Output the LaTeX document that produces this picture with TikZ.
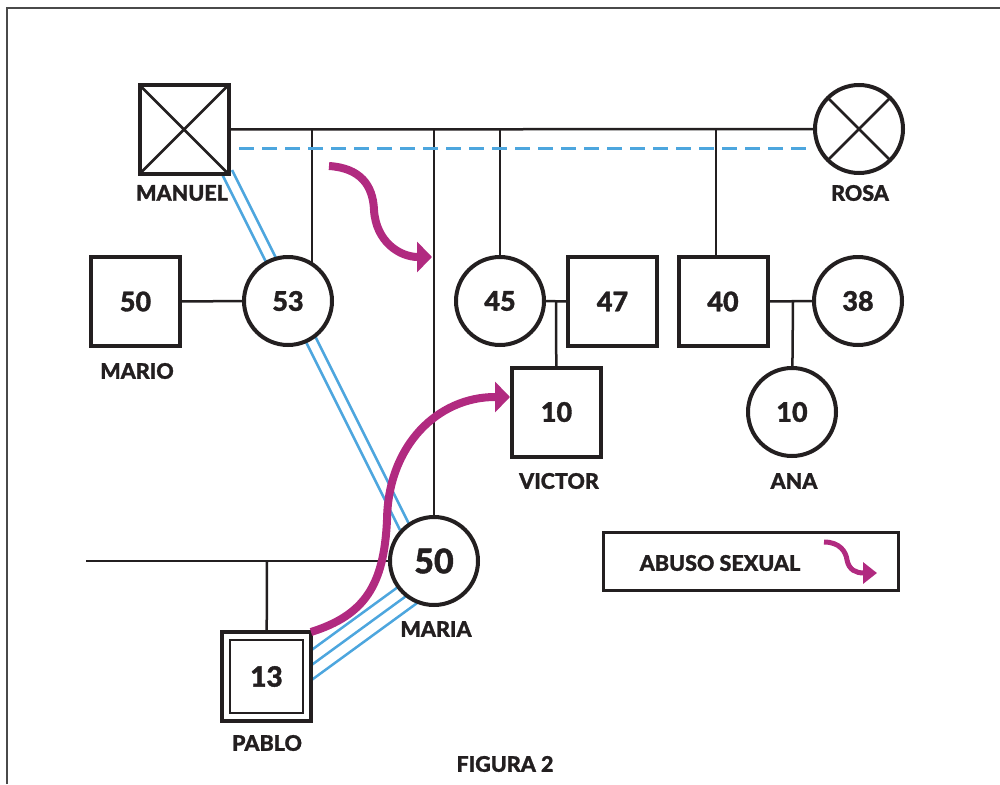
\documentclass[tikz,border=0pt]{standalone}
\usepackage{fontspec}
\setmainfont{Lato}[BoldFont={Lato Heavy}, BoldFeatures={FakeBold=1.2}]
\usetikzlibrary{arrows.meta,calc}
\definecolor{ink}{HTML}{231F20}
\definecolor{abusecol}{HTML}{B12A80}
\definecolor{relcol}{HTML}{4DA6DE}
\definecolor{framecol}{HTML}{4A4A4A}
\pgfdeclarelayer{bg}
\pgfsetlayers{bg,main}
\begin{document}
\begin{tikzpicture}[x=1pt,y=-1pt,
  person/.style={draw=ink, line width=4pt, fill=white, inner sep=0pt, outer sep=0pt, text=ink, font=\fontsize{27}{27}\selectfont\bfseries},
  pmale/.style={person, rectangle, minimum size=89pt},
  pfemale/.style={person, circle, minimum size=88pt},
  lbl/.style={inner sep=0pt, text=ink, font=\fontsize{21.5}{21.5}\selectfont\bfseries},
  conn/.style={draw=ink, line width=2.5pt},
  emoline/.style={draw=relcol, line width=2.5pt},
  abusearrow/.style={draw=abusecol, line width=8pt, -{Triangle[length=15pt,width=30pt]}},
]
\useasboundingbox (0,0) rectangle (1000,784);
% frame
\draw[framecol, line width=1.6pt] (7,784) -- (7,8) -- (1000,8);

% persons
\node[pmale] (manuel) at (184,129.5) {};
\draw[ink, line width=2.5pt] (manuel.north west) -- (manuel.south east) (manuel.north east) -- (manuel.south west);
\node[pfemale] (rosa) at (859,129) {};
\draw[ink, line width=2.5pt] (rosa.45) -- (rosa.225) (rosa.135) -- (rosa.315);
\node[pmale] (mario) at (135.5,301.5) {50};
\node[pfemale] (p53) at (288,301) {53};
\node[pfemale] (p45) at (500,301) {45};
\node[pmale] (p47) at (612.5,301.5) {47};
\node[pmale] (p40) at (723,301.5) {40};
\node[pfemale] (p38) at (858,301) {38};
\node[pmale] (victor) at (556.5,412) {10};
\node[pfemale] (ana) at (792,412) {10};
\node[pfemale, font=\fontsize{34}{34}\selectfont\bfseries] (maria) at (434,561) {50};
\node[pmale, font=\fontsize{28}{28}\selectfont\bfseries] (pablo) at (266.5,676.5) {13};
\draw[ink, line width=2.5pt] ([shift={(8,8)}]pablo.north west) rectangle ([shift={(-8,-8)}]pablo.south east);

% labels
\node[lbl] (lmanuel) at (182,193) {MANUEL};
\node[lbl] (lrosa) at (860,193) {ROSA};
\node[lbl] (lmario) at (137,371) {MARIO};
\node[lbl] (lvictor) at (559,481) {VICTOR};
\node[lbl] (lana) at (794,481) {ANA};
\node[lbl] (lmaria) at (436,629) {MARIA};
\node[lbl] (lpablo) at (267,743) {PABLO};
\node[lbl] (fig) at (505,764) {FIGURA 2};

% junction coordinates
\coordinate (j53) at (312,129);
\coordinate (jm) at (434,129);
\coordinate (j45) at (500,129);
\coordinate (j40) at (716,129);
\coordinate (c1) at (556,301);
\coordinate (c2) at (793,301);
\coordinate (lft) at (86,561);
\coordinate (c3) at (267,561);
\coordinate (dl) at (239,148);
\coordinate (dr) at (806,148);
\coordinate (ea1) at (220,170);
\coordinate (ea2) at (400,530);
\coordinate (eb1) at (232,170);
\coordinate (eb2) at (412,530);
\coordinate (f1a) at (308,652.6);
\coordinate (f1b) at (400,585.5);
\coordinate (f2a) at (308,667.6);
\coordinate (f2b) at (410,593.2);
\coordinate (f3a) at (308,682.6);
\coordinate (f3b) at (420,600.9);

\begin{pgfonlayer}{bg}
\draw[conn] (manuel.east) -- (rosa.west);
\draw[conn] (j53) -- (j53 |- p53.center);
\draw[conn] (jm) -- (maria.center);
\draw[conn] (j45) -- (p45.center);
\draw[conn] (j40) -- (j40 |- p40.center);
\draw[conn] (mario.center) -- (p53.center);
\draw[conn] (p45.center) -- (p47.center);
\draw[conn] (c1) -- (victor.center);
\draw[conn] (p40.center) -- (p38.center);
\draw[conn] (c2) -- (ana.center);
\draw[conn] (lft) -- (maria.center);
\draw[conn] (c3) -- (pablo.center);
\draw[emoline, line width=3pt, dash pattern=on 15pt off 8pt] (dl) -- (dr);
\draw[emoline] (ea1) -- (ea2);
\draw[emoline] (eb1) -- (eb2);
\draw[emoline] (f1a) -- (f1b);
\draw[emoline] (f2a) -- (f2b);
\draw[emoline] (f3a) -- (f3b);
\end{pgfonlayer}

% abuse arrows
\coordinate (a1s) at (329,166);
\coordinate (a1e) at (432,257);
\draw[abusearrow] (a1s) .. controls (360,168) and (373,185) .. (374,210) .. controls (376,242) and (400,257) .. (a1e);
\coordinate (a2e) at (510,397);
\draw[abusearrow] (pablo.north east) .. controls (365,615) and (384,585) .. (387,520) .. controls (388,445) and (438,397) .. (495,397) -- (a2e);

% legend
\node[draw=ink, line width=2.7pt, minimum width=295pt, minimum height=58pt, inner sep=0pt] (legend) at (751,561.5) {};
\node[lbl] (legtext) at (720,563) {ABUSO SEXUAL};
\coordinate (l1s) at (824,542);
\coordinate (l1e) at (877,573);
\draw[draw=abusecol, line width=5pt, -{Triangle[length=14pt,width=21pt]}] (l1s) .. controls (840,542) and (846,552) .. (847,560) .. controls (849,570) and (856,573) .. (l1e);
\end{tikzpicture}
\end{document}
